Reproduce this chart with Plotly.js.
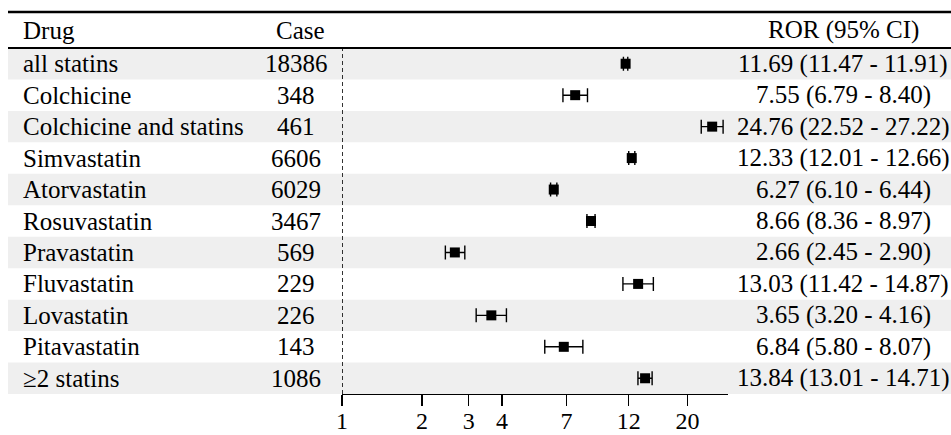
<!DOCTYPE html>
<html>
<head>
<meta charset="utf-8">
<script src="https://cdn.plot.ly/plotly-3.0.1.min.js"></script>
<style>html,body{margin:0;padding:0;background:#fff;}#chart{width:951px;height:435px;}</style>
</head>
<body>
<div id="chart"></div>
<script>
const drugs = ["all statins","Colchicine","Colchicine and statins","Simvastatin","Atorvastatin","Rosuvastatin","Pravastatin","Fluvastatin","Lovastatin","Pitavastatin","≥2 statins"];
const cases = [18386,348,461,6606,6029,3467,569,229,226,143,1086];
const ror = [11.69,7.55,24.76,12.33,6.27,8.66,2.66,13.03,3.65,6.84,13.84];
const lo  = [11.47,6.79,22.52,12.01,6.10,8.36,2.45,11.42,3.20,5.80,13.01];
const hi  = [11.91,8.40,27.22,12.66,6.44,8.97,2.90,14.87,4.16,8.07,14.71];
const tickVals = [1,2,3,4,7,12,20];
const headers = ["Drug","Case","ROR (95% CI)"];

const W = 951, H = 435;
const FONT = 'Liberation Serif, DejaVu Serif, serif';
const FS = 25;
const px = v => v / W;
const py = v => (H - v) / H;

const rows = drugs.map((d, i) => i + 1);

const trace = {
  type: 'scatter', mode: 'markers',
  x: ror, y: rows,
  marker: {symbol: 'square', size: 10, color: '#000'},
  error_x: {
    type: 'data', symmetric: false,
    array: hi.map((h, i) => h - ror[i]),
    arrayminus: lo.map((l, i) => ror[i] - l),
    color: '#000', thickness: 1.4, width: 7
  },
  hoverinfo: 'skip', showlegend: false, cliponaxis: false
};

const shapes = [];
rows.forEach((r, i) => {
  if (i % 2 === 0) {
    shapes.push({type: 'rect', xref: 'paper', yref: 'y', x0: px(8), x1: 1, y0: r - 0.5, y1: r + 0.5,
      fillcolor: '#efefef', line: {width: 0}, layer: 'below'});
  }
});
shapes.push({type: 'line', xref: 'paper', yref: 'paper', x0: px(8), x1: 1, y0: py(12), y1: py(12), line: {color: '#000', width: 2.4}});
shapes.push({type: 'line', xref: 'paper', yref: 'paper', x0: px(8), x1: 1, y0: py(48), y1: py(48), line: {color: '#000', width: 2}});
shapes.push({type: 'line', xref: 'x', yref: 'paper', x0: 1, x1: 1, y0: py(394), y1: py(48), line: {color: '#000', width: 1.6, dash: '4px,3px'}});

const annotations = [];
const base = {showarrow: false, font: {family: FONT, size: FS, color: '#000'}, yanchor: 'middle'};
annotations.push(Object.assign({}, base, {xref: 'paper', yref: 'paper', x: px(21), y: py(30), xanchor: 'left', text: headers[0]}));
annotations.push(Object.assign({}, base, {xref: 'paper', yref: 'paper', x: px(300), y: py(30), xanchor: 'center', text: headers[1]}));
annotations.push(Object.assign({}, base, {xref: 'paper', yref: 'paper', x: px(843), y: py(30), xanchor: 'center', text: headers[2]}));
rows.forEach((r, i) => {
  annotations.push(Object.assign({}, base, {xref: 'paper', yref: 'y', x: px(21), y: r, xanchor: 'left', text: drugs[i]}));
  annotations.push(Object.assign({}, base, {xref: 'paper', yref: 'y', x: px(296), y: r, xanchor: 'center', text: String(cases[i])}));
  annotations.push(Object.assign({}, base, {xref: 'paper', yref: 'y', x: px(843), y: r, xanchor: 'center',
    text: ror[i].toFixed(2) + ' (' + lo[i].toFixed(2) + ' - ' + hi[i].toFixed(2) + ')'}));
});

const layout = {
  width: W, height: H,
  margin: {l: 0, r: 0, t: 0, b: 0},
  paper_bgcolor: '#fff', plot_bgcolor: 'rgba(0,0,0,0)',
  font: {family: FONT, size: FS, color: '#000'},
  xaxis: {
    type: 'log', domain: [px(342), px(728)], range: [0, Math.log10(28.4)],
    tickmode: 'array', tickvals: tickVals, ticktext: tickVals.map(String),
    showline: true, linecolor: '#000', linewidth: 1.2,
    ticks: 'outside', ticklen: 11, tickwidth: 1.2, tickcolor: '#000',
    ticklabelstandoff: -6,
    showgrid: false, zeroline: false, fixedrange: true,
    tickfont: {family: FONT, size: 24, color: '#000'}
  },
  yaxis: {
    domain: [1 - 394 / H, 1 - 48 / H], range: [11.5, 0.5], visible: false, fixedrange: true
  },
  shapes: shapes,
  annotations: annotations,
  showlegend: false
};

Plotly.newPlot('chart', [trace], layout, {displayModeBar: false, staticPlot: true});
</script>
</body>
</html>
